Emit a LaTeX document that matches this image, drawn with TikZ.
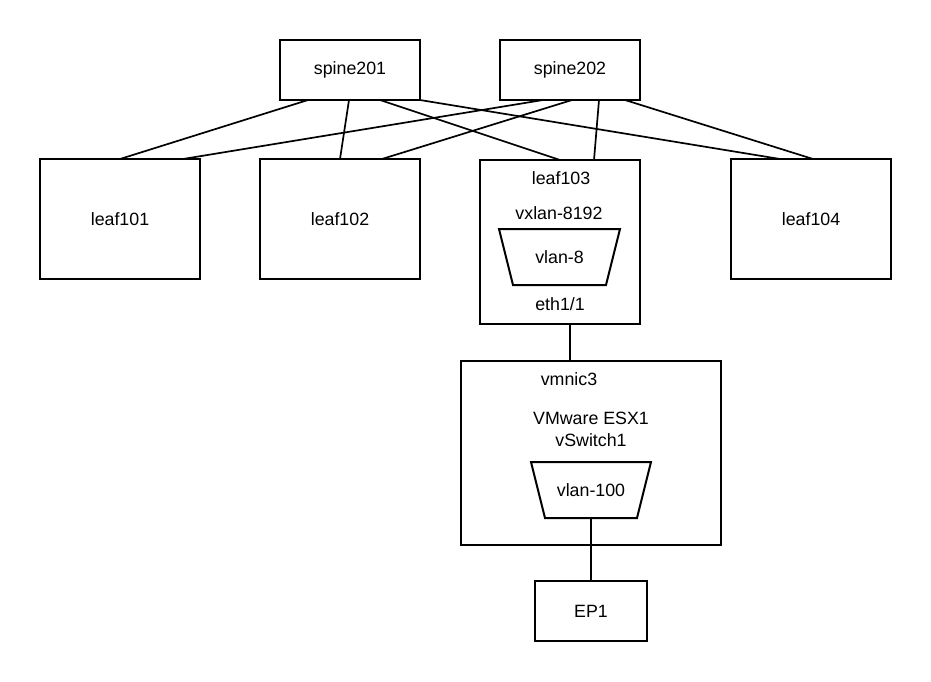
\documentclass[tikz,border=0pt]{standalone}
\usepackage{fontspec}
\setmainfont{Liberation Sans}
\begin{document}
\begin{tikzpicture}[x=1pt,y=-1pt,
  box/.style={draw,line width=2pt,inner sep=0pt,outer sep=0pt,font=\fontsize{17.8}{21}\selectfont},
  lbl/.style={inner sep=0pt,font=\fontsize{17.8}{21}\selectfont},
  trapbox/.style={inner sep=0pt,outer sep=0pt,font=\fontsize{17.8}{21}\selectfont},
  trapline/.style={line width=2pt,line join=miter},
  link/.style={line width=1.7pt}]
\useasboundingbox (0,0) rectangle (931,681);
\fill[white] (0,0) rectangle (931,681);
% spines
\node[box,minimum width=140pt,minimum height=60pt] (s201) at (350,70) {spine201};
\node[box,minimum width=140pt,minimum height=60pt] (s202) at (570,70) {spine202};
% leaves
\node[box,minimum width=160pt,minimum height=120pt] (l101) at (120,219) {leaf101};
\node[box,minimum width=160pt,minimum height=120pt] (l102) at (340,219) {leaf102};
\node[box,minimum width=160pt,minimum height=164pt] (l103) at (560,242) {};
\node[box,minimum width=160pt,minimum height=120pt] (l104) at (811,219) {leaf104};
\node[lbl] (l103t) at (561,178) {leaf103};
\node[lbl] (vx) at (559,213) {vxlan-8192};
\node[trapbox,minimum width=121pt,minimum height=56pt] (v8) at (559.5,257) {vlan-8};
\draw[trapline] (v8.north west) -- (v8.north east) -- ([xshift=-14pt]v8.south east) -- ([xshift=14pt]v8.south west) -- cycle;
\node[lbl] (eth) at (560,304) {eth1/1};
% ESX
\node[box,minimum width=260pt,minimum height=184pt] (esx) at (591,453) {};
\node[lbl] (vmnic) at (569,379) {vmnic3};
\node[lbl] (esxt) at (591,418) {VMware ESX1};
\node[lbl] (vsw) at (591,440) {vSwitch1};
\node[trapbox,minimum width=120pt,minimum height=56pt] (v100) at (591,490) {vlan-100};
\draw[trapline] (v100.north west) -- (v100.north east) -- ([xshift=-14pt]v100.south east) -- ([xshift=14pt]v100.south west) -- cycle;
% EP1
\node[box,minimum width=112pt,minimum height=60pt] (ep1) at (591,611) {EP1};
% spine-leaf links
\draw[link] ([xshift=28pt]s201.south west) -- ([xshift=80pt]l101.north west);
\draw[link] ([xshift=69pt]s201.south west) -- ([xshift=80pt]l102.north west);
\draw[link] ([xshift=100pt]s201.south west) -- ([xshift=80pt]l103.north west);
\draw[link] (s201.south east) -- ([xshift=49pt]l104.north west);
\draw[link] ([xshift=43pt]s202.south west) -- ([xshift=143pt]l101.north west);
\draw[link] ([xshift=72pt]s202.south west) -- ([xshift=122pt]l102.north west);
\draw[link] ([xshift=99pt]s202.south west) -- ([xshift=114pt]l103.north west);
\draw[link] ([xshift=125pt]s202.south west) -- ([xshift=82pt]l104.north west);
% vertical links
\draw[line width=2pt] ([xshift=10pt]l103.south) -- ([xshift=10pt]l103.south |- esx.north);
\draw[line width=2pt] (v100.south) -- (ep1.north);
\end{tikzpicture}
\end{document}
